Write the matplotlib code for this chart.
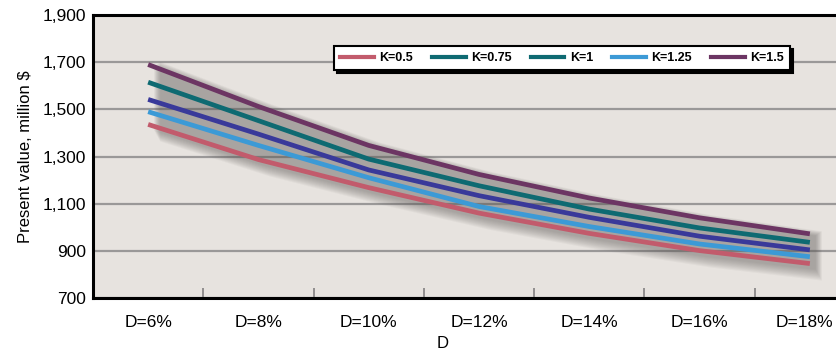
import matplotlib
matplotlib.use("Agg")
import matplotlib.pyplot as plt
import matplotlib.transforms as mtrans
from matplotlib.lines import Line2D
import numpy as np

plt.rcParams['font.family'] = ['Liberation Sans', 'DejaVu Sans']

# data
cats = ["D=6%", "D=8%", "D=10%", "D=12%", "D=14%", "D=16%", "D=18%"]
k15 = [1690, 1512, 1347, 1224, 1124, 1040, 972]
k075 = [1615, 1452, 1289, 1176, 1077, 997, 936]
k1 = [1542, 1395, 1243, 1134, 1042, 962, 904]
k125 = [1490, 1347, 1210, 1088, 1003, 929, 875]
k05 = [1436, 1287, 1168, 1060, 974, 901, 846]
yticks = [700, 900, 1100, 1300, 1500, 1700, 1900]

c_pink = "#c25b6c"
c_teal = "#0e6a72"
c_indigo = "#39399a"
c_lblue = "#3c9ad6"
c_purple = "#6c3563"

fig = plt.figure(figsize=(8.37, 3.53), dpi=100)
fig.patch.set_facecolor("white")
ax = fig.add_axes([93/837, 1-298/353, 772/837, 283/353])
ax.set_facecolor("#e7e3df")

x = np.arange(len(cats))

# blurred drop shadow behind the bundle of lines
top = np.array(k15, float)
bot = np.array(k05, float)
for i in range(10):
    grow = i * 5
    ax.fill_between(x + 0.05 + i * 0.006, bot - 25 - grow, top - 5 + grow * 0.4,
                    color="#5e5a58", alpha=0.055, lw=0, zorder=1)

for vals, col in [(k05, c_pink), (k125, c_lblue), (k1, c_indigo),
                  (k075, c_teal), (k15, c_purple)]:
    ax.plot(x, vals, color=col, lw=3.4, zorder=3, solid_capstyle="butt")

ax.set_xlim(-0.5, len(cats) - 0.5)
ax.set_ylim(700, 1900)
ax.set_yticks(yticks)
ax.set_yticklabels(["{:,}".format(v) for v in yticks], fontsize=12.5)
ax.yaxis.grid(True, color="#9a9898", lw=1.6, zorder=0)
ax.set_axisbelow(True)
ax.tick_params(axis="y", length=0, pad=5)

ax.set_xticks(x)
ax.set_xticklabels(cats, fontsize=12.5)
ax.tick_params(axis="x", length=0, pad=12)
ax.set_xticks(x[:-1] + 0.5, minor=True)
ax.tick_params(axis="x", which="minor", direction="in", length=7, width=1.3, color="#8a8888")
# last label sits against the cropped right edge
last = ax.get_xticklabels()[-1]
last.set_transform(last.get_transform() + mtrans.ScaledTranslation(-5/100, 0, fig.dpi_scale_trans))

for s in ["left", "bottom", "top"]:
    ax.spines[s].set_linewidth(2.2)
    ax.spines[s].set_color("black")
ax.spines["right"].set_visible(False)

ax.set_ylabel("Present value, million $", fontsize=12, labelpad=7)
fig.text(443/837, 1-343/353, "D", fontsize=12, ha="center", va="center")

handles = [Line2D([], [], color=c_pink, lw=3),
           Line2D([], [], color=c_teal, lw=3),
           Line2D([], [], color=c_teal, lw=3),
           Line2D([], [], color=c_lblue, lw=3),
           Line2D([], [], color=c_purple, lw=3)]
labels = ["K=0.5", "K=0.75", "K=1", "K=1.25", "K=1.5"]
leg = ax.legend(handles, labels, ncol=5, loc="center",
                bbox_to_anchor=((562 - 93) / 772, 1 - (58 - 15) / 283),
                prop={"weight": "bold", "size": 9}, frameon=True, fancybox=False,
                shadow={"color": "black", "alpha": 1}, handlelength=2.7,
                columnspacing=1.5, handletextpad=0.45, borderpad=0.5, borderaxespad=0)
leg.get_frame().set_edgecolor("black")
leg.get_frame().set_linewidth(1.5)
leg.get_frame().set_facecolor("white")

fig.savefig("out.png", dpi=100)
